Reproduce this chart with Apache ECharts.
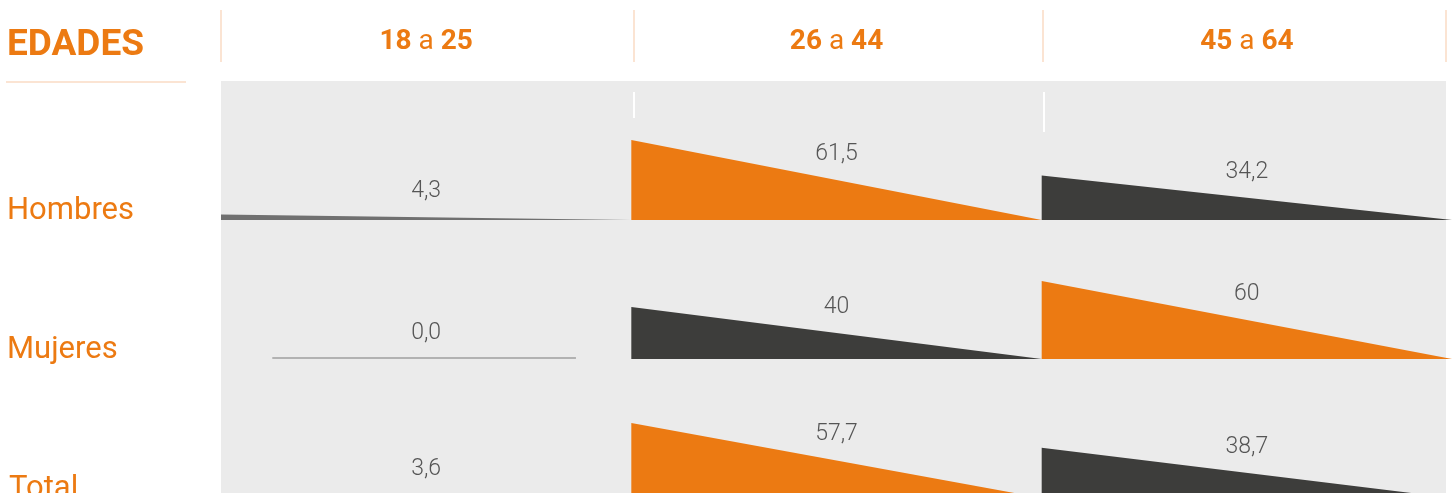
<!DOCTYPE html>
<html>
<head>
<meta charset="utf-8">
<script src="https://cdn.jsdelivr.net/npm/echarts@6/dist/echarts.min.js"></script>
<style>
html,body{margin:0;padding:0;background:#fff;}
#chart{width:1452px;height:493px;}
</style>
</head>
<body>
<div id="chart"></div>
<script>
// ---- data ----
var title = 'EDADES';
var ageGroups = ['18 a 25', '26 a 44', '45 a 64'];
var rows = ['Hombres', 'Mujeres', 'Total'];
var hombres = [4.3, 61.5, 34.2];
var mujeres = [0.0, 40, 60];
var total = [3.6, 57.7, 38.7];
var hombresLabels = ['4,3', '61,5', '34,2'];
var mujeresLabels = ['0,0', '40', '60'];
var totalLabels = ['3,6', '57,7', '38,7'];

var seriesValues = [hombres, mujeres, total];
var seriesLabels = [hombresLabels, mujeresLabels, totalLabels];

// ---- style ----
var ORANGE = '#ec7a12';
var DARK = '#3d3d3b';
var GREY = '#707070';
var ZERO = '#b2b2b2';
var LIGHT = '#fbe4d3';
var rowBaselines = [220, 359, 498];
var gridH = 130;

var chart = echarts.init(document.getElementById('chart'));

var grids = [], xAxes = [], yAxes = [], series = [];
rows.forEach(function (r, i) {
  grids.push({ left: 221, right: 0, top: rowBaselines[i] - gridH, height: gridH, show: false, outerBoundsMode: 'none', containLabel: false });
  xAxes.push({ type: 'value', gridIndex: i, min: 0, max: 3, show: false });
  yAxes.push({ type: 'value', gridIndex: i, min: 0, max: 100, show: false });
  var vals = seriesValues[i];
  var maxV = Math.max.apply(null, vals);
  series.push({
    type: 'custom',
    name: r,
    xAxisIndex: i,
    yAxisIndex: i,
    clip: false,
    data: vals.map(function (v, c) { return [c, v]; }),
    renderItem: function (params, api) {
      var c = api.value(0), v = api.value(1);
      var lbl = seriesLabels[i][params.dataIndex];
      var children = [];
      if (v === 0) {
        var a = api.coord([c + 0.125, 0]), b = api.coord([c + 0.865, 0]);
        children.push({ type: 'line', shape: { x1: a[0], y1: a[1] - 1, x2: b[0], y2: b[1] - 1 }, style: { stroke: ZERO, lineWidth: 2 } });
      } else {
        var p0 = api.coord([c, v]), p1 = api.coord([c, 0]), p2 = api.coord([c + 1, 0]);
        var col = v === maxV ? ORANGE : (v < 10 ? GREY : DARK);
        children.push({ type: 'polygon', shape: { points: [p0, p1, p2] }, style: { fill: col } });
      }
      var m = api.coord([c + 0.5, v / 2]);
      children.push({ type: 'text', style: { text: lbl, x: m[0], y: m[1] - 26, align: 'center', verticalAlign: 'middle', fill: '#555555', font: '300 23px Roboto' } });
      return { type: 'group', children: children };
    }
  });
});

// header axis for age groups
xAxes.push({
  type: 'category', gridIndex: 0, position: 'top', data: ageGroups,
  axisLine: { show: false }, axisTick: { show: false }, splitLine: { show: false },
  axisLabel: {
    margin: 34,
    formatter: function (v) {
      var p = v.split(' a ');
      return '{b|' + p[0] + '}{a|\u00a0a\u00a0}{b|' + p[1] + '}';
    },
    rich: {
      b: { fontFamily: 'Roboto', fontWeight: 'bold', fontSize: 28, color: ORANGE },
      a: { fontFamily: 'Roboto', fontWeight: 400, fontSize: 28, color: ORANGE }
    }
  }
});

var graphics = [
  { type: 'rect', z: -10, shape: { x: 221, y: 81, width: 1225, height: 420 }, style: { fill: '#ebebeb' } },
  { type: 'line', z: -5, shape: { x1: 634, y1: 92, x2: 634, y2: 118 }, style: { stroke: '#ffffff', lineWidth: 2 } },
  { type: 'line', z: -5, shape: { x1: 1044, y1: 92, x2: 1044, y2: 132 }, style: { stroke: '#ffffff', lineWidth: 2 } },
  { type: 'line', shape: { x1: 6, y1: 82, x2: 186, y2: 82 }, style: { stroke: LIGHT, lineWidth: 2 } },
  { type: 'text', x: 7, y: 46, style: { text: title, fill: ORANGE, font: 'bold 37px Roboto', verticalAlign: 'middle' } }
];
[221, 634, 1043, 1446].forEach(function (x) {
  graphics.push({ type: 'line', shape: { x1: x, y1: 10, x2: x, y2: 62 }, style: { stroke: LIGHT, lineWidth: 2 } });
});
rows.forEach(function (r, i) {
  graphics.push({ type: 'text', x: i === 2 ? 9 : 7, y: rowBaselines[i] - 9, style: { text: r, fill: ORANGE, font: '400 31px Roboto', verticalAlign: 'middle' } });
});

chart.setOption({
  animation: false,
  grid: grids,
  xAxis: xAxes,
  yAxis: yAxes,
  graphic: graphics,
  series: series
});
</script>
</body>
</html>
